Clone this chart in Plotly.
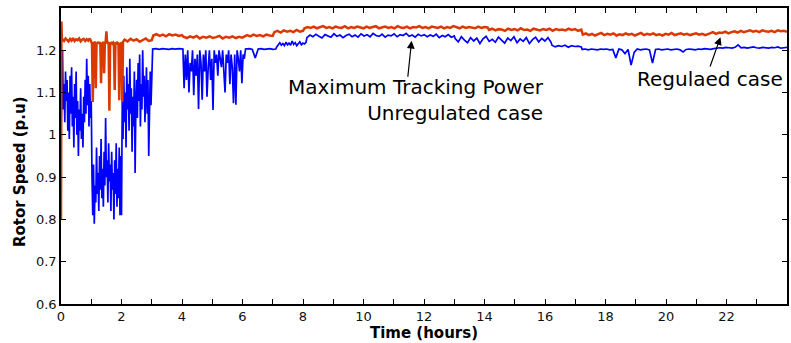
import numpy as np
import plotly.graph_objects as go

# ---------------- data ----------------
# Unregulated case (Maximum Tracking Power) - blue
blue_a_span = (0.0, 3.0)
blue_a = [1.00, 1.14, 1.20, 1.06, 1.12, 1.03, 1.15, 1.08, 1.13, 1.01, 1.10, 0.99, 1.14, 1.05, 1.16, 1.02,
          1.09, 0.97, 1.12, 1.04, 1.15, 1.00, 1.08, 0.95, 1.06, 1.01, 1.11, 0.99, 1.05, 0.97, 1.09, 1.03,
          1.13, 1.05, 1.18, 1.07, 1.14, 1.02, 1.12, 1.04, 1.08,
          0.90, 0.81, 0.93, 0.79, 0.88, 0.84, 0.97, 0.86, 0.91, 0.82, 0.95, 0.87, 0.99, 0.85, 0.92, 0.83,
          0.96, 0.88, 1.04, 0.90, 0.94, 0.84, 0.98, 0.89, 0.93, 0.82, 0.96, 0.87, 0.91, 0.80, 0.94, 0.86,
          0.98, 0.83, 0.92, 0.85, 0.97, 0.81, 0.95, 0.81,
          1.08, 0.99, 1.14, 1.03, 1.10, 0.97, 1.16, 1.06, 1.12, 1.01, 1.18, 1.05, 1.11, 0.96, 1.09, 1.02,
          1.15, 0.91, 1.07, 1.13, 1.04, 1.17, 1.08, 1.19, 1.02, 1.12, 1.06, 1.20, 1.09, 1.14, 1.03, 1.11,
          1.16, 1.05, 1.13, 0.95, 1.10, 1.15, 1.07, 1.12]
blue_b_span = (3.03, 4.0)
blue_b = [1.203, 1.204, 1.202, 1.204, 1.203, 1.202, 1.204, 1.203, 1.204, 1.203]
blue_c_span = (4.03, 6.1)
blue_c = [1.203, 1.11, 1.19, 1.13, 1.20, 1.10, 1.17, 1.15, 1.20, 1.094, 1.18, 1.14, 1.19, 1.061, 1.20,
          1.17, 1.083, 1.19, 1.15, 1.20, 1.09, 1.16, 1.20, 1.13, 1.18, 1.059, 1.20, 1.17, 1.19, 1.14,
          1.20, 1.18, 1.16, 1.20, 1.15, 1.10, 1.19, 1.17, 1.20, 1.12, 1.19, 1.16, 1.075, 1.19, 1.071,
          1.20, 1.18, 1.15, 1.20, 1.122, 1.19, 1.18, 1.203]
blue_d_span = (6.13, 7.1)
blue_d = [1.203, 1.204, 1.202, 1.182, 1.203, 1.204, 1.202, 1.203, 1.204, 1.202, 1.203]
blue_e_span = (7.13, 8.1)
blue_e = [1.208, 1.214, 1.218, 1.212, 1.216, 1.211, 1.219, 1.213, 1.217, 1.212, 1.222, 1.214, 1.218,
          1.211, 1.216, 1.220, 1.213, 1.217, 1.215, 1.219]
blue_f_span = (8.13, 13.0)
blue_f = [1.230, 1.236, 1.232, 1.238, 1.233, 1.229, 1.237, 1.234, 1.231, 1.239, 1.233, 1.236, 1.230,
          1.235, 1.238, 1.232, 1.236, 1.231, 1.239, 1.234, 1.237, 1.232, 1.240, 1.235, 1.233, 1.238,
          1.231, 1.236, 1.234, 1.239, 1.232, 1.237, 1.235, 1.240, 1.233, 1.236, 1.231, 1.238, 1.234,
          1.237, 1.232, 1.236, 1.233, 1.238, 1.230, 1.235, 1.232, 1.237, 1.231, 1.234]
blue_g_span = (13.03, 16.2)
blue_g = [1.228, 1.220, 1.232, 1.224, 1.218, 1.230, 1.222, 1.229, 1.216, 1.227, 1.233, 1.221, 1.226,
          1.219, 1.231, 1.224, 1.217, 1.229, 1.223, 1.232, 1.218, 1.227, 1.221, 1.230, 1.216, 1.225,
          1.231, 1.220, 1.228, 1.222, 1.230, 1.219]
blue_h_span = (16.23, 17.2)
blue_h = [1.212, 1.208, 1.211, 1.209, 1.212, 1.207, 1.211, 1.209, 1.210, 1.208]
blue_i_span = (17.23, 24.0)
blue_i = [1.202, 1.203, 1.201, 1.203, 1.202, 1.201, 1.203, 1.202, 1.203, 1.201, 1.202,
          1.182, 1.203, 1.201, 1.192, 1.202, 1.165, 1.195,
          1.203, 1.201, 1.202, 1.203, 1.201, 1.170,
          1.202, 1.203, 1.201, 1.202, 1.203, 1.201, 1.202, 1.203, 1.201, 1.196,
          1.202, 1.203, 1.202, 1.201, 1.203, 1.202, 1.204, 1.203, 1.202, 1.204, 1.205,
          1.206, 1.205, 1.207, 1.206, 1.205, 1.207, 1.213,
          1.206, 1.207, 1.205, 1.206, 1.208, 1.206, 1.205, 1.207, 1.206, 1.205, 1.207, 1.206,
          1.208, 1.205, 1.206, 1.207]

# Regulated case - red
red_a_span = (0.0, 0.03)
red_a = [0.80, 1.268, 1.225]
red_b_span = (0.05, 1.0)
red_b = [1.226, 1.222, 1.228, 1.224, 1.221, 1.227, 1.223, 1.229, 1.222, 1.226, 1.224, 1.228, 1.221,
         1.225, 1.227, 1.222, 1.226, 1.223, 1.228, 1.220]
red_c_span = (1.025, 2.075)
red_c = [1.215, 1.078, 1.219, 1.214, 1.221, 1.110, 1.218, 1.215, 1.220, 1.216, 1.219, 1.214, 1.122,
         1.218, 1.216, 1.220, 1.146, 1.217, 1.219, 1.245, 1.216, 1.218, 1.214, 1.057, 1.219, 1.215,
         1.220, 1.216, 1.218, 1.213, 1.106, 1.219, 1.215, 1.220, 1.216, 1.218, 1.082, 1.217, 1.214,
         1.219, 1.078, 1.220, 1.223]
red_d_span = (2.1, 3.0)
red_d = [1.225, 1.221, 1.227, 1.223, 1.226, 1.220, 1.225, 1.228, 1.222, 1.224]
red_e_span = (3.05, 4.0)
red_e = [1.235, 1.238, 1.234, 1.237, 1.233, 1.238, 1.235, 1.237, 1.234, 1.236]
red_f_span = (4.05, 6.1)
red_f = [1.232, 1.229, 1.233, 1.230, 1.234, 1.228, 1.232, 1.230, 1.233, 1.229, 1.231, 1.234, 1.228,
         1.232, 1.230, 1.233, 1.229, 1.232, 1.230, 1.234]
red_g_span = (6.15, 7.0)
red_g = [1.236, 1.233, 1.237, 1.234, 1.236, 1.233, 1.237, 1.235, 1.234]
red_h_span = (7.05, 8.0)
red_h = [1.243, 1.246, 1.242, 1.247, 1.244, 1.246, 1.243, 1.248, 1.244, 1.246]
red_i_span = (8.05, 14.1)
red_i = [1.252, 1.255, 1.253, 1.256, 1.252, 1.254, 1.257, 1.253, 1.255, 1.252, 1.256, 1.254, 1.253,
         1.257, 1.252, 1.255, 1.253, 1.256, 1.254, 1.252, 1.256, 1.253, 1.255, 1.257, 1.252, 1.254,
         1.256, 1.253, 1.255, 1.252, 1.257, 1.254, 1.253, 1.256, 1.252, 1.255, 1.254, 1.257, 1.253,
         1.255, 1.252, 1.256, 1.254, 1.253, 1.256, 1.252, 1.255, 1.253, 1.257, 1.254, 1.252, 1.256,
         1.253, 1.255, 1.254, 1.252, 1.256, 1.253, 1.255, 1.254]
red_j_span = (14.15, 17.2)
red_j = [1.248, 1.251, 1.247, 1.250, 1.249, 1.246, 1.251, 1.248, 1.250, 1.247, 1.252, 1.248, 1.249,
         1.246, 1.251, 1.249, 1.247, 1.250, 1.248, 1.251, 1.246, 1.250, 1.248, 1.249, 1.247, 1.251,
         1.248, 1.250, 1.246, 1.249]
red_k_span = (17.25, 21.4)
red_k = [1.237, 1.240, 1.236, 1.239, 1.235, 1.238, 1.241, 1.236, 1.239, 1.237, 1.240, 1.235, 1.238,
         1.236, 1.240, 1.237, 1.239, 1.235, 1.238, 1.241, 1.236, 1.239, 1.237, 1.240, 1.236, 1.238,
         1.235, 1.239, 1.237, 1.241, 1.236, 1.238, 1.240, 1.237, 1.239, 1.236, 1.238, 1.240, 1.237,
         1.239, 1.236, 1.238]
red_l_span = (21.45, 24.0)
red_l = [1.240, 1.243, 1.239, 1.242, 1.241, 1.244, 1.240, 1.243, 1.245, 1.242, 1.246, 1.243, 1.245,
         1.247, 1.244, 1.246, 1.243, 1.247, 1.245, 1.244, 1.246, 1.243, 1.247, 1.245, 1.246, 1.244]

x_tick_vals = list(range(0, 24))
x_tick_text = [str(v) if v % 2 == 0 else "" for v in x_tick_vals]
y_tick_vals = [0.6, 0.7, 0.8, 0.9, 1.0, 1.1, 1.2]
y_tick_text = ["0.6", "0.7", "0.8", "0.9", "1", "1.1", "1.2"]

label_unreg = "Maximum Tracking Power<br>Unregulated case"
label_reg = "Regulaed case"


def build(parts):
    ts, vs = [], []
    for span, vals in parts:
        ts.append(np.linspace(span[0], span[1], len(vals)))
        vs.append(np.array(vals))
    return np.concatenate(ts), np.concatenate(vs)


t_blue, w_blue = build([(blue_a_span, blue_a), (blue_b_span, blue_b), (blue_c_span, blue_c),
                        (blue_d_span, blue_d), (blue_e_span, blue_e), (blue_f_span, blue_f),
                        (blue_g_span, blue_g), (blue_h_span, blue_h), (blue_i_span, blue_i)])
t_red, w_red = build([(red_a_span, red_a), (red_b_span, red_b), (red_c_span, red_c),
                      (red_d_span, red_d), (red_e_span, red_e), (red_f_span, red_f),
                      (red_g_span, red_g), (red_h_span, red_h), (red_i_span, red_i),
                      (red_j_span, red_j), (red_k_span, red_k), (red_l_span, red_l)])

FONT = "DejaVu Sans"
BLUE = "#0000FF"
RED = "#DA3A02"

fig = go.Figure()
fig.add_trace(go.Scatter(x=t_blue, y=w_blue, mode="lines",
                         line=dict(color=BLUE, width=1.7), showlegend=False, hoverinfo="skip"))
fig.add_trace(go.Scatter(x=t_red, y=w_red, mode="lines",
                         line=dict(color=RED, width=2.5), showlegend=False, hoverinfo="skip"))

axis_common = dict(showline=True, linecolor="black", linewidth=1.5, mirror="ticks",
                   ticks="inside", tickcolor="black", tickwidth=1, showgrid=False, zeroline=False,
                   tickfont=dict(family=FONT, size=13, color="#111"))

fig.update_xaxes(range=[0, 24], tickmode="array", tickvals=x_tick_vals, ticktext=x_tick_text,
                 ticklen=5, title=dict(text="<b>Time (hours)</b>", standoff=2,
                                       font=dict(family=FONT, size=15, color="black")),
                 **axis_common)
fig.update_yaxes(range=[0.6, 1.3], tickmode="array", tickvals=y_tick_vals, ticktext=y_tick_text,
                 ticklen=5, **axis_common)

annot_font = dict(family=FONT, size=20, color="black")
fig.add_annotation(x=16.04, y=1.083, xref="x", yref="y", text=label_unreg, showarrow=False,
                   xanchor="right", yanchor="middle", align="right", font=annot_font)
fig.add_annotation(x=23.95, y=1.132, xref="x", yref="y", text=label_reg, showarrow=False,
                   xanchor="right", yanchor="middle", font=annot_font)
# arrows
fig.add_annotation(x=11.59, y=1.2225, ax=11.46, ay=1.134, xref="x", yref="y", axref="x", ayref="y",
                   text="", showarrow=True, arrowhead=2, arrowsize=1.3, arrowwidth=1.2,
                   arrowcolor="black")
fig.add_annotation(x=21.8, y=1.231, ax=21.44, ay=1.158, xref="x", yref="y", axref="x", ayref="y",
                   text="", showarrow=True, arrowhead=2, arrowsize=1.3, arrowwidth=1.2,
                   arrowcolor="black")
# y-axis title
fig.add_annotation(x=-0.0563, y=0.446, xref="paper", yref="paper", text="<b>Rotor Speed (p.u)</b>",
                   showarrow=False, textangle=-90, xanchor="center", yanchor="middle",
                   font=dict(family=FONT, size=15, color="black"))

fig.update_layout(width=791, height=343, margin=dict(l=61, r=2, t=8, b=39),
                  paper_bgcolor="white", plot_bgcolor="white")

fig.write_html("out.html")
